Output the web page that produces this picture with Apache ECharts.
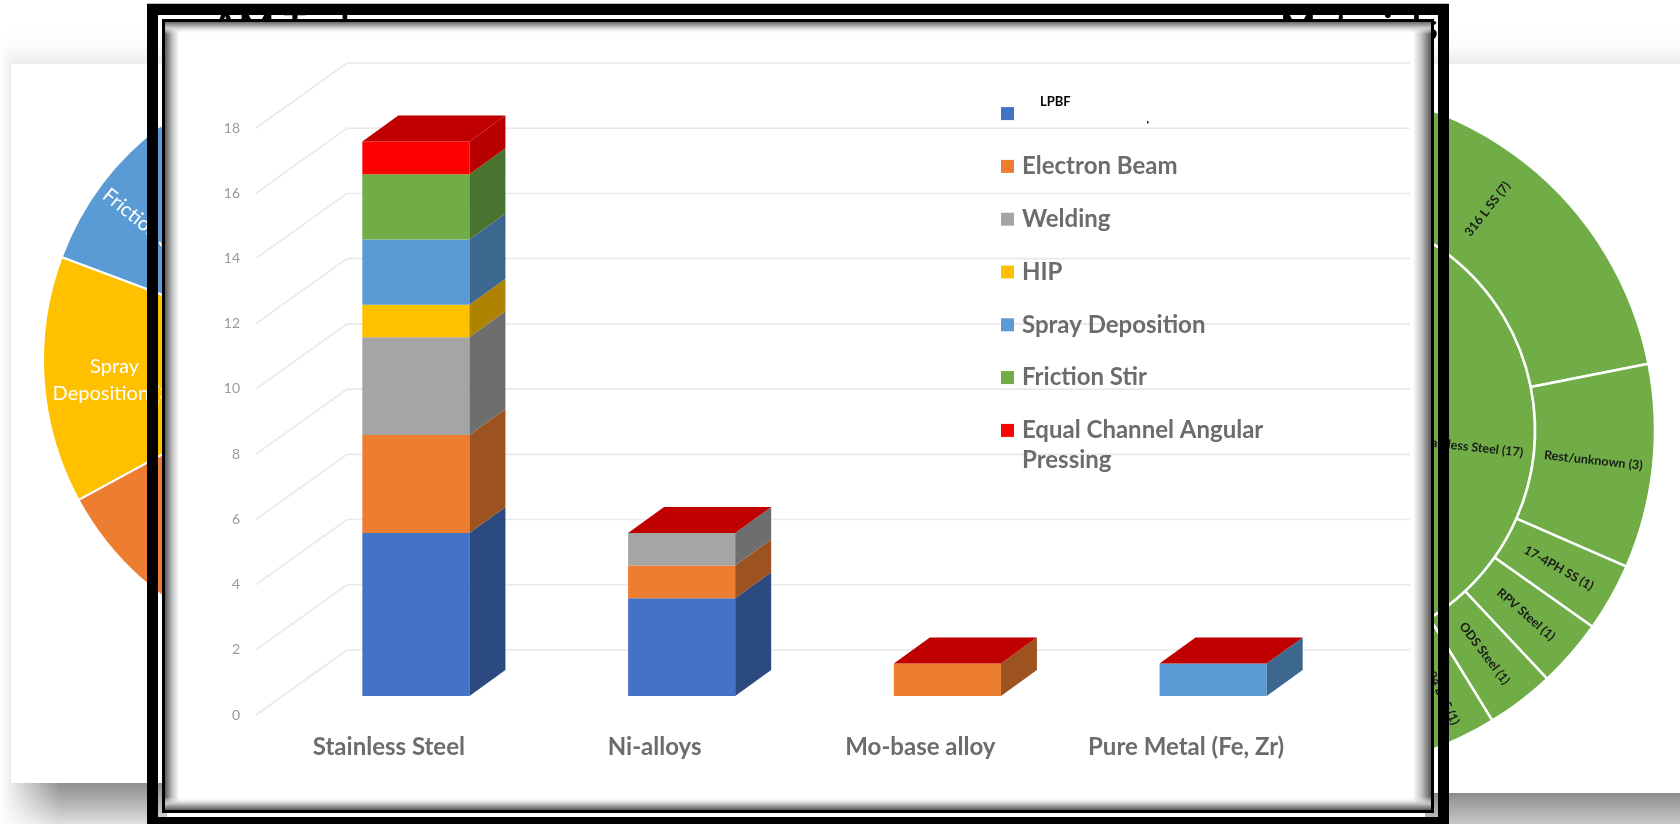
<!DOCTYPE html>
<html>
<head>
<meta charset="utf-8">
<title>Additive manufacturing processes by material</title>
<style>html,body{margin:0;background:#fff}#chart{width:1680px;height:824px}</style>
<script src="https://cdn.jsdelivr.net/npm/echarts@6/dist/echarts.min.js"></script>
</head>
<body>
<div id="chart"></div>
<script>
// Stacked bar values: one list per process, one entry per material.
const materials = ['Stainless Steel', 'Ni-alloys', 'Mo-base alloy', 'Pure Metal (Fe, Zr)'];
const lpbf = [5, 3, 0, 0];
const electronBeam = [3, 1, 1, 0];
const welding = [3, 1, 0, 0];
const hip = [1, 0, 0, 0];
const sprayDeposition = [2, 0, 0, 1];
const frictionStir = [2, 0, 0, 0];
const equalChannel = [1, 0, 0, 0];
const valueTicks = [0, 2, 4, 6, 8, 10, 12, 14, 16, 18];

const processNames = ['LPBF', 'Electron Beam', 'Welding', 'HIP', 'Spray Deposition', 'Friction Stir', 'Equal Channel Angular Pressing'];
const processValues = [lpbf, electronBeam, welding, hip, sprayDeposition, frictionStir, equalChannel];
const frontColors = ['#4472C4', '#ED7D31', '#A5A5A5', '#FFC000', '#5B9BD5', '#70AD47', '#FF0000'];
const sideColors = ['#2B4A80', '#9C531F', '#6E6E6E', '#AD8300', '#3C688F', '#4B7330', '#B80000'];
const capColor = '#C00000';

// Process totals for the ring on the left.
const pieNames = ['LPBF (8)', 'Welding (4)', 'Electron Beam (5)', 'Spray\nDeposition (3)', 'Friction Stir (2)'];
const pieValues = [8, 4, 5, 3, 2];
const pieColors = ['#4472C4', '#A5A5A5', '#ED7D31', '#FFC000', '#5B9BD5'];

// Material breakdown for the sunburst on the right.
const steelNames = ['316 L SS (7)', 'Rest/unknown (3)', '17-4PH SS (1)', 'RPV Steel (1)', 'ODS Steel (1)', 'AISI 304 L SS (1)', '304 SS (2)', '15-5 SS (1)'];
const steelValues = [7, 3, 1, 1, 1, 1, 2, 1];
const otherMaterialNames = ['Ni-alloys (5)', 'Mo-base alloy (1)', 'Pure Metal (1)', 'Other (7)'];
const otherMaterialValues = [5, 1, 1, 7];

const chart = echarts.init(document.getElementById('chart'), null, { renderer: 'canvas' });

const FONT = 'Lato, "Open Sans", sans-serif';
const WALL = '#E9E9E9';

// Each process becomes a custom series drawing a box per material, stacked on those before it.
function boxData(index) {
  return materials.map((_, cat) => {
    let start = 0;
    for (let i = 0; i < index; i++) start += processValues[i][cat];
    return [cat, start, start + processValues[index][cat]];
  });
}

function renderBox(index) {
  const isLast = index === processValues.length - 1;
  return function (params, api) {
    const cat = api.value(0);
    const a = api.coord([cat, api.value(1)]);
    const b = api.coord([cat, api.value(2)]);
    const w = api.size([1, 0])[0] * 0.403;
    const l = a[0] + 27 - w / 2, r = l + w;
    const y0 = a[1] - 19, y1 = b[1] - 19;
    const dx = 36, dy = 26;
    const children = [];
    if (y0 - y1 > 0.01) {
      children.push({ type: 'polygon', shape: { points: [[l, y0], [r, y0], [r, y1], [l, y1]] }, style: { fill: frontColors[index] } });
      children.push({ type: 'polygon', shape: { points: [[r, y0], [r + dx, y0 - dy], [r + dx, y1 - dy], [r, y1]] }, style: { fill: sideColors[index] } });
    }
    if (isLast) {
      children.push({ type: 'polygon', shape: { points: [[l, y1], [r, y1], [r + dx, y1 - dy], [l + dx, y1 - dy]] }, style: { fill: capColor } });
    }
    return { type: 'group', children };
  };
}

// Floor and back wall rules: a diagonal from the value scale, then along the wall.
function renderWall(params, api) {
  const y = api.coord([0, api.value(0)])[1];
  const x0 = params.coordSys.x;
  return {
    type: 'polyline',
    shape: { points: [[x0, y], [x0 + 91, y - 65], [x0 + 1154, y - 65]] },
    style: { stroke: WALL, lineWidth: 1.6, fill: 'none' },
    silent: true
  };
}

const vGrad = (stops) => new echarts.graphic.LinearGradient(0, 0, 0, 1, stops.map((c, i) => ({ offset: i / (stops.length - 1), color: c })));
const hGrad = (stops) => new echarts.graphic.LinearGradient(0, 0, 1, 0, stops.map((c, i) => ({ offset: i / (stops.length - 1), color: c })));
const rect = (x, y, width, height, fill, z) => ({ type: 'rect', silent: true, z, shape: { x, y, width, height }, style: { fill } });

const BLACK = '#000';
const backdrop = [
  // Soft shading round the two rear slides.
  rect(0, 28, 1680, 36, vGrad(['#FFFFFF', '#FBFBFB', '#ECECEC']), 0),
  rect(0, 28, 12, 40, hGrad(['#FFFFFF', 'rgba(255,255,255,0)']), 0),
  rect(0, 64, 11, 719, hGrad(['#FFFFFF', '#EFEFEF']), 0),
  rect(0, 783, 147, 41, vGrad(['#8F8F8F', '#B5B5B5', '#E0E0E0']), 0),
  rect(0, 783, 60, 41, hGrad(['#FFFFFF', 'rgba(255,255,255,0)']), 0),
  rect(1449, 793, 231, 31, vGrad(['#8C8C8C', '#C8C8C8']), 0),
  rect(147, 783, 20, 41, vGrad(['#8F8F8F', '#B5B5B5', '#E0E0E0']), 0),
  rect(1425, 793, 24, 31, vGrad(['#8C8C8C', '#C8C8C8']), 0),
  // Headings of the rear slides, almost fully covered by the front panel.
  { type: 'text', silent: true, z: 2, style: { text: 'AM Tech', x: 212, y: 46, verticalAlign: 'bottom', font: 'bold 38px ' + FONT, fill: '#000' } },
  { type: 'text', silent: true, z: 2, style: { text: 'Materials', x: 1438, y: 47, align: 'right', verticalAlign: 'bottom', font: 'bold 38px ' + FONT, fill: '#000' } }
];

const frame = [
  // Front panel with its inner shadow.
  rect(165, 22, 1266, 788, '#FFFFFF', 3),
  rect(165, 22, 14, 788, hGrad(['#5A5A5A', '#BDBDBD', '#FFFFFF']), 3),
  rect(1413, 22, 18, 788, hGrad(['#FFFFFF', '#BDBDBD', '#5A5A5A']), 3),
  rect(165, 22, 1266, 12, vGrad(['#6A6A6A', '#D0D0D0', 'rgba(255,255,255,0)']), 3),
  rect(165, 797, 1266, 13, vGrad(['rgba(255,255,255,0)', '#C8C8C8', '#5A5A5A']), 3),
  // Double black border, with a see-through gap between its two rules.
  rect(147, 3, 1302, 1, '#BBBBBB', 4),
  rect(147, 4, 1302, 11, BLACK, 4),
  rect(147, 817, 1302, 7, BLACK, 4),
  rect(147, 4, 11, 820, BLACK, 4),
  rect(1438, 4, 11, 820, BLACK, 4),
  rect(162, 19, 1272, 3, BLACK, 4),
  rect(162, 810, 1272, 3, BLACK, 4),
  rect(162, 19, 3, 794, BLACK, 4),
  rect(1431, 19, 3, 794, BLACK, 4),
  rect(1147, 121, 1.5, 2.5, '#222', 7),
  // Second line of the wrapped legend entry.
  { type: 'text', silent: true, z: 7, style: { text: 'Pressing', x: 1022, y: 460, verticalAlign: 'middle', font: 'bold 24px ' + FONT, fill: '#6C6C6C' } }
];

const legendText = { color: '#6C6C6C', fontFamily: FONT, fontWeight: 'bold', fontSize: 24, lineHeight: 47.2, padding: [0, 0, 0, 3] };

const boxSeries = processNames.map((name, i) => ({
  type: 'custom',
  name,
  z: 5,
  silent: true,
  animation: false,
  itemStyle: { color: frontColors[i] },
  renderItem: renderBox(i),
  encode: { x: 0, y: [1, 2] },
  data: boxData(i)
}));

chart.setOption({
  animation: false,
  backgroundColor: '#FFFFFF',
  graphic: { elements: backdrop.concat(frame) },
  grid: { left: 256, top: 128, width: 1063, height: 587, containLabel: false },
  xAxis: {
    type: 'category',
    z: 6,
    data: materials,
    axisLine: { show: false },
    axisTick: { show: false },
    axisLabel: { margin: 20, color: '#6C6C6C', fontFamily: FONT, fontWeight: 'bold', fontSize: 24, interval: 0 }
  },
  yAxis: {
    type: 'value',
    z: 6,
    min: 0,
    max: 18,
    interval: 2,
    splitLine: { show: false },
    axisLine: { show: false },
    axisTick: { show: false },
    axisLabel: { margin: 16, color: '#9A9A9A', fontFamily: FONT, fontSize: 14 }
  },
  legend: {
    orient: 'vertical',
    left: 996,
    top: 85,
    z: 6,
    itemWidth: 13,
    itemHeight: 13,
    itemGap: 5.6,
    icon: 'rect',
    selectedMode: false,
    textStyle: legendText,
    formatter: (name) => {
      if (name === 'LPBF') return 'LPBF\n ';
      return name === 'Equal Channel Angular Pressing' ? 'Equal Channel Angular' : name;
    },
    data: processNames.map((name) => (name === 'LPBF'
      ? { name, textStyle: { color: '#000', fontFamily: FONT, fontWeight: 'bold', fontSize: 13, lineHeight: 23.6, padding: [0, 0, 0, 21] } }
      : { name }))
  },
  series: [
    {
      type: 'pie',
      z: 1,
      silent: true,
      center: [336, 360],
      radius: [145, 293],
      startAngle: 126.7,
      itemStyle: { borderColor: '#fff', borderWidth: 2 },
      labelLine: { show: false },
      label: { position: 'inside', color: '#FFF', fontFamily: FONT, fontSize: 20, lineHeight: 27 },
      labelLayout: (params) => ({ dx: params.dataIndex === 4 ? 2 : 0, dy: params.dataIndex === 4 ? 7 : 5 }),
      data: pieNames.map((name, i) => ({
        name,
        value: pieValues[i],
        itemStyle: { color: pieColors[i] },
        label: name.startsWith('Friction') ? { rotate: -39 } : { rotate: 0 }
      }))
    },
    {
      type: 'sunburst',
      z: 1,
      silent: true,
      center: [1314, 430],
      radius: [96, 341],
      startAngle: 92.5,
      sort: null,
      nodeClick: false,
      emphasis: { focus: 'none' },
      itemStyle: { color: '#70AD47', borderColor: '#fff', borderWidth: 2.5 },
      label: { rotate: 'radial', color: '#1A1A1A', fontFamily: FONT, fontWeight: 'bold', fontSize: 12.5 },
      levels: [
        {},
        { r0: 96, r: 221 },
        { r0: 221, r: 341 }
      ],
      data: [
        {
          name: 'Stainless Steel (17)',
          children: steelNames.map((name, i) => ({ name, value: steelValues[i] }))
        }
      ].concat(otherMaterialNames.map((name, i) => ({ name, value: otherMaterialValues[i] })))
    },
    {
      type: 'custom',
      name: 'wall',
      z: 4,
      silent: true,
      renderItem: renderWall,
      encode: { y: 0 },
      data: valueTicks.map((v) => [v])
    }
  ].concat(boxSeries)
});
</script>
</body>
</html>
